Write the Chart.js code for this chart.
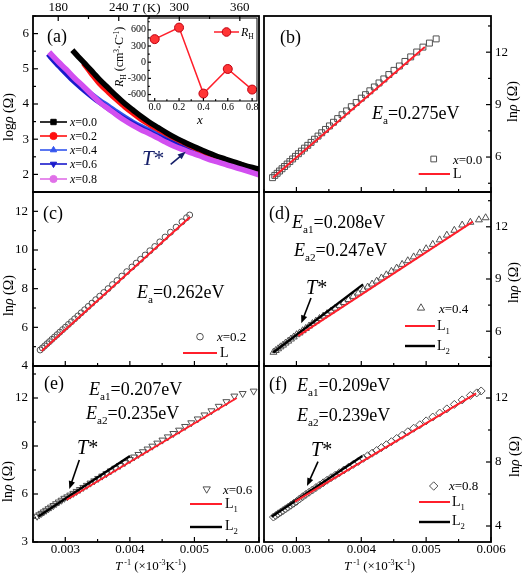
<!DOCTYPE html>
<html><head><meta charset="utf-8">
<script src="https://cdn.jsdelivr.net/npm/chart.js"></script>
<style>
html,body{margin:0;padding:0;background:#fff;}
#wrap{position:relative;width:524px;height:577px;overflow:hidden;background:#fff;font-family:"Liberation Serif","Times New Roman",serif;}
#wrap canvas{position:absolute;left:0;top:0;}
.t{position:absolute;white-space:nowrap;line-height:1;color:#000;}
.t sub{font-size:0.62em;vertical-align:-0.45em;line-height:0;}
.t sup{font-size:0.62em;vertical-align:0.6em;line-height:0;}
</style></head>
<body><div id="wrap"></div>
<script>
// ---------- panel (a): log rho vs T ----------
const T_x00=[194,200,208,215,221,230,238,246,254,262,270,279,287,295,304,312,320,328,336,345,353,362,370,379];
const logR_x00=[5.53,5.34,5.10,4.88,4.69,4.44,4.22,4.01,3.83,3.65,3.49,3.33,3.19,3.06,2.93,2.82,2.72,2.62,2.53,2.44,2.36,2.28,2.21,2.15];
const T_x02=[205,213,221,230,238,246,254,262,271,279,287,295,304,312,320,328,337,345,353,362,370,379];
const logR_x02=[5.16,4.86,4.58,4.33,4.12,3.92,3.74,3.57,3.41,3.28,3.15,3.03,2.91,2.80,2.69,2.59,2.50,2.42,2.34,2.26,2.19,2.13];
const T_x04=[172,180,188,196,205,213,221,230,238,246,254,262,271,279,287,295,304,312,320,328,337,345,353,362,370,379];
const logR_x04=[5.39,5.14,4.91,4.68,4.46,4.27,4.10,3.93,3.77,3.62,3.48,3.36,3.24,3.12,3.01,2.91,2.81,2.71,2.62,2.54,2.46,2.38,2.31,2.24,2.17,2.10];
const T_x06=[170,178,186,194,203,211,219,228,236,244,252,260,269,277,285,294,302,311,320,328,337,345,353,362,370,379];
const logR_x06=[5.42,5.16,4.92,4.69,4.46,4.27,4.09,3.91,3.75,3.60,3.47,3.34,3.21,3.10,2.99,2.88,2.78,2.68,2.59,2.51,2.43,2.35,2.28,2.21,2.14,2.07];
const T_x08=[171,180,188,196,205,213,221,230,238,246,254,262,271,279,287,295,304,312,320,328,337,345,353,362,370,379];
const logR_x08=[5.47,5.20,4.98,4.74,4.50,4.27,4.05,3.86,3.69,3.53,3.39,3.27,3.15,3.03,2.91,2.80,2.70,2.61,2.53,2.44,2.36,2.29,2.22,2.14,2.07,1.99];
// inset: Hall coefficient
const xH=[0.0,0.2,0.4,0.6,0.8];
const RH=[428,642,-582,-126,-508];
// ---------- panel (b) x=0.0 ----------
const invT_b=[0.0026316,0.0026667,0.0027027,0.0027397,0.0027778,0.0028169,0.0028571,0.0028986,0.0029412,0.0029851,0.0030303,0.0030769,0.0031250,0.0031746,0.0032258,0.0032787,0.0033333,0.0033898,0.0034483,0.0035088,0.0035714,0.0036364,0.0037037,0.0037736,0.0038462,0.0039216,0.0040000,0.0040650,0.0041322,0.0042017,0.0042735,0.0043478,0.0044248,0.0045045,0.0045872,0.0046729,0.0047619,0.0048544,0.0049505,0.0050505,0.0051546];
const ln_b=[4.82,4.95,5.07,5.20,5.33,5.46,5.60,5.74,5.89,6.04,6.19,6.34,6.51,6.67,6.84,7.02,7.20,7.39,7.58,7.78,7.99,8.20,8.42,8.64,8.88,9.12,9.37,9.57,9.79,10.01,10.24,10.47,10.72,10.96,11.21,11.47,11.73,12.01,12.29,12.52,12.76];
const fitB_x=[0.00264,0.00498], fitB_y=[4.83,12.29];
// ---------- panel (c) x=0.2 ----------
const invT_c=[0.0026110,0.0026455,0.0026810,0.0027174,0.0027548,0.0027933,0.0028329,0.0028736,0.0029155,0.0029586,0.0030030,0.0030488,0.0030960,0.0031447,0.0031949,0.0032468,0.0033003,0.0033557,0.0034130,0.0034722,0.0035336,0.0035971,0.0036630,0.0037313,0.0038023,0.0038760,0.0039526,0.0040323,0.0040984,0.0041667,0.0042373,0.0043103,0.0043860,0.0044643,0.0045455,0.0046296,0.0047170,0.0048077,0.0048780,0.0049261];
const ln_c=[4.83,4.93,5.04,5.15,5.26,5.38,5.50,5.62,5.75,5.88,6.01,6.15,6.29,6.44,6.59,6.75,6.91,7.08,7.25,7.43,7.61,7.80,8.00,8.21,8.42,8.65,8.88,9.12,9.32,9.52,9.74,9.96,10.18,10.42,10.67,10.92,11.18,11.46,11.67,11.81];
const fitC_x=[0.002635,0.004931], fitC_y=[4.78,11.71];
// ---------- panel (d) x=0.4 ----------
const invT_d=[0.0026455,0.0026810,0.0027174,0.0027548,0.0027933,0.0028329,0.0028736,0.0029155,0.0029586,0.0030030,0.0030488,0.0030960,0.0031447,0.0031949,0.0032468,0.0033003,0.0033557,0.0034130,0.0034722,0.0035336,0.0035971,0.0036630,0.0037313,0.0038023,0.0038760,0.0039526,0.0040323,0.0040984,0.0041667,0.0042373,0.0043103,0.0043860,0.0044643,0.0045455,0.0046296,0.0047170,0.0048077,0.0049020,0.0050000,0.0051020,0.0052083,0.0053191,0.0054348,0.0055556,0.0056818,0.0058140,0.0059172];
const ln_d=[4.79,4.89,4.99,5.10,5.20,5.32,5.43,5.55,5.67,5.80,5.90,6.03,6.16,6.30,6.44,6.58,6.73,6.87,7.01,7.16,7.32,7.48,7.65,7.82,8.00,8.19,8.38,8.54,8.71,8.88,9.06,9.24,9.44,9.63,9.84,10.05,10.27,10.50,10.74,10.99,11.25,11.52,11.80,12.10,12.26,12.40,12.52];
const fitD1_x=[0.003028,0.00572], fitD1_y=[5.73,12.30];
const fitD2_x=[0.002643,0.004028], fitD2_y=[4.78,8.69];
// ---------- panel (e) x=0.6 ----------
const invT_e=[0.0025641,0.0025974,0.0026316,0.0026667,0.0027027,0.0027397,0.0027778,0.0028169,0.0028571,0.0028986,0.0029412,0.0029851,0.0030303,0.0030769,0.0031250,0.0031746,0.0032258,0.0032787,0.0033333,0.0033898,0.0034483,0.0035088,0.0035714,0.0036364,0.0037037,0.0037736,0.0038462,0.0039216,0.0040000,0.0040650,0.0041322,0.0042017,0.0042735,0.0043478,0.0044248,0.0045045,0.0045872,0.0046729,0.0047619,0.0048544,0.0049505,0.0050505,0.0051546,0.0052632,0.0053763,0.0054945,0.0056180,0.0057471,0.0059172];
const ln_e=[4.61,4.70,4.79,4.88,4.98,5.08,5.18,5.28,5.39,5.50,5.61,5.73,5.82,5.93,6.04,6.16,6.28,6.41,6.54,6.68,6.82,6.97,7.12,7.27,7.44,7.61,7.78,7.96,8.15,8.31,8.47,8.64,8.81,8.99,9.18,9.37,9.57,9.78,9.99,10.22,10.45,10.69,10.94,11.20,11.48,11.77,12.12,12.28,12.43];
const fitE1_x=[0.003022,0.005655], fitE1_y=[5.64,12.0];
const fitE2_x=[0.002582,0.004002], fitE2_y=[4.59,8.37];
// ---------- panel (f) x=0.8 ----------
const invT_f=[0.0026455,0.0026810,0.0027174,0.0027548,0.0027933,0.0028329,0.0028736,0.0029155,0.0029586,0.0030030,0.0030488,0.0030960,0.0031447,0.0031949,0.0032468,0.0033003,0.0033557,0.0034130,0.0034722,0.0035336,0.0035971,0.0036630,0.0037313,0.0038023,0.0038760,0.0039526,0.0040323,0.0040984,0.0041667,0.0042373,0.0043103,0.0043860,0.0044643,0.0045455,0.0046296,0.0047170,0.0048077,0.0049020,0.0050000,0.0051020,0.0052083,0.0053191,0.0054348,0.0055556,0.0056818,0.0057803,0.0058480];
const ln_f=[4.56,4.65,4.76,4.86,4.96,5.07,5.18,5.30,5.42,5.54,5.69,5.83,5.97,6.11,6.25,6.40,6.55,6.70,6.86,7.02,7.17,7.33,7.50,7.67,7.85,8.03,8.23,8.39,8.55,8.72,8.90,9.08,9.27,9.47,9.67,9.89,10.11,10.33,10.57,10.81,11.06,11.32,11.60,11.88,12.16,12.32,12.44];
const fitF1_x=[0.002977,0.005771], fitF1_y=[5.52,12.29];
const fitF2_x=[0.002617,0.004017], fitF2_y=[4.58,8.38];
// ---------- tick labels ----------
const tickT=[180,240,300,360];
const tickLogR=[2,3,4,5,6];
const tickXH=[0,0.2,0.4,0.6,0.8];
const tickRH=[-600,-300,0,300,600];
const tickInvT=[0.003,0.004,0.005,0.006];
const tickLn_b=[6,9,12], tickLn_c=[4,6,8,10,12], tickLn_d=[6,9,12], tickLn_e=[3,6,9,12], tickLn_f=[4,8,12];

const W=524,H=577;
const FONT='"Liberation Serif","Times New Roman",serif';
const RED='#ff1f2b', MK='#505050', NAVY='#16206a';
const wrap=document.getElementById('wrap');
const pts=(xs,ys)=>xs.map((x,i)=>({x:x,y:ys[i]}));

function seg(ctx,x1,y1,x2,y2,c,w){ctx.save();ctx.strokeStyle=c;ctx.lineWidth=w;ctx.beginPath();ctx.moveTo(x1,y1);ctx.lineTo(x2,y2);ctx.stroke();ctx.restore();}
function arrow(ctx,x1,y1,x2,y2,c){
  const a=Math.atan2(y2-y1,x2-x1),L=8,Wd=3.2;
  seg(ctx,x1,y1,x2-L*0.6*Math.cos(a),y2-L*0.6*Math.sin(a),c,1.6);
  ctx.save();ctx.fillStyle=c;ctx.beginPath();ctx.moveTo(x2,y2);
  ctx.lineTo(x2-L*Math.cos(a)+Wd*Math.sin(a),y2-L*Math.sin(a)-Wd*Math.cos(a));
  ctx.lineTo(x2-L*Math.cos(a)-Wd*Math.sin(a),y2-L*Math.sin(a)+Wd*Math.cos(a));
  ctx.closePath();ctx.fill();ctx.restore();
}
function marker(ctx,s,x,y,r,stroke,fill,lw){
  ctx.save();ctx.beginPath();
  if(s==='circle'){ctx.arc(x,y,r,0,Math.PI*2);}
  else if(s==='rect'){ctx.rect(x-r*0.75,y-r*0.75,r*1.5,r*1.5);}
  else if(s==='tri'){ctx.moveTo(x,y-r);ctx.lineTo(x+r*0.87,y+r*0.5);ctx.lineTo(x-r*0.87,y+r*0.5);ctx.closePath();}
  else if(s==='tridown'){ctx.moveTo(x,y+r);ctx.lineTo(x+r*0.87,y-r*0.5);ctx.lineTo(x-r*0.87,y-r*0.5);ctx.closePath();}
  else if(s==='diamond'){ctx.moveTo(x,y-r);ctx.lineTo(x+r,y);ctx.lineTo(x,y+r);ctx.lineTo(x-r,y);ctx.closePath();}
  if(fill){ctx.fillStyle=fill;ctx.fill();}
  if(stroke){ctx.strokeStyle=stroke;ctx.lineWidth=lw||1;ctx.stroke();}
  ctx.restore();
}

function panel(o){
  const cv=document.createElement('canvas');cv.width=W;cv.height=H;wrap.appendChild(cv);
  const [l,t,r,b]=o.box, X=o.x, Y=o.y;
  const pad={left:l-(Y.pos==='left'?Y.size:0),right:W-r-(Y.pos==='right'?Y.size:0),
             top:t-(X.pos==='top'?X.size:0),bottom:H-b-(X.pos==='bottom'?X.size:0)};
  const sc=(s,isX)=>({type:'linear',position:s.pos,min:s.min,max:s.max,
     grid:{display:false,drawTicks:false},border:{display:false},
     ticks:{display:!!s.labels,autoSkip:false,maxRotation:0,minRotation:0,
            padding:s.pad||0,color:'#000',font:{family:FONT,size:s.font||13},callback:s.fmt||(v=>String(v))},
     afterBuildTicks:(k)=>{k.ticks=s.ticks.map(v=>({value:v}));},
     afterFit:(k)=>{if(isX)k.height=s.size;else k.width=s.size;}});
  const deco={id:'deco',afterDraw(ch){
     const ctx=ch.ctx,a=ch.chartArea;
     ctx.save();ctx.strokeStyle='#000';ctx.lineWidth=o.frame||1.8;
     ctx.strokeRect(a.left,a.top,a.right-a.left,a.bottom-a.top);
     [['x',X],['y',Y]].forEach(([k,s])=>{
        const scl=ch.scales[k],h=s.step/2,tl=o.tick||5;
        for(let i=Math.ceil(s.min/h-1e-6);i*h<=s.max+1e-12;i++){
          const v=i*h,len=(i%2===0)?tl:tl*0.6;
          const p=scl.getPixelForValue(v);
          ctx.beginPath();ctx.lineWidth=1.2;
          if(k==='x'){const e=s.pos==='top'?a.top:a.bottom,d=s.pos==='top'?1:-1;ctx.moveTo(p,e);ctx.lineTo(p,e+d*len);}
          else{const e=s.pos==='left'?a.left:a.right,d=s.pos==='left'?1:-1;ctx.moveTo(e,p);ctx.lineTo(e+d*len,p);}
          ctx.stroke();
        }
     });
     ctx.restore();
     if(o.extra){ctx.save();o.extra(ctx,ch);ctx.restore();}
  }};
  return new Chart(cv,{type:'scatter',data:{datasets:o.datasets},
    options:{responsive:false,maintainAspectRatio:false,animation:false,devicePixelRatio:1,events:[],
      layout:{padding:pad},plugins:{legend:{display:false},tooltip:{enabled:false}},
      scales:{x:sc(X,true),y:sc(Y,false)}},plugins:[deco]});
}

const curve=(lab,xs,ys,col,ord)=>({label:lab,data:pts(xs,ys),showLine:true,borderColor:col,borderWidth:5.5,pointRadius:0,cubicInterpolationMode:'monotone',order:ord});
const marks=(lab,xs,ys,style,r,rot)=>({label:lab,data:pts(xs,ys),showLine:false,pointStyle:style,pointRadius:r,pointRotation:rot||0,
  pointBorderColor:MK,pointBackgroundColor:'rgba(255,255,255,0)',pointBorderWidth:1,order:1});
const fit=(lab,xs,ys,col,w)=>({label:lab,data:pts(xs,ys),showLine:true,borderColor:col,borderWidth:w||2,pointRadius:0,order:0});
const fmt3=v=>v.toFixed(3);
const xCol=(labels)=>({pos:'bottom',min:0.0025,max:0.006,step:0.001,ticks:tickInvT,labels:labels,size:labels?35:0,pad:0,fmt:fmt3});

// (a)
panel({box:[33,16,259,192],
  x:{pos:'top',min:155,max:379,step:60,ticks:tickT,labels:true,size:16,pad:1},
  y:{pos:'left',min:1.5,max:6.5,step:1,ticks:tickLogR,labels:true,size:33,pad:4},
  datasets:[curve('x=0.0',T_x00,logR_x00,'#000000',2),curve('x=0.2',T_x02,logR_x02,'#ff1010',3),
            curve('x=0.4',T_x04,logR_x04,'#3355ee',5),curve('x=0.6',T_x06,logR_x06,'#1a1acc',4),
            curve('x=0.8',T_x08,logR_x08,'#d24ff0',1)],
  extra:(ctx)=>{
    const L=[[122,'#000','rect'],[136,'#ff1010','circle'],[150,'#3355ee','tri'],[164,'#1a1acc','tridown'],[179,'#e070e8','circle']];
    L.forEach(([y,c,s])=>{seg(ctx,40,y,67,y,c,1.6);marker(ctx,s,53.5,y,3.6,c,c,1);});
    arrow(ctx,170.7,164.3,185.7,151.7,NAVY);
  }});
// inset
panel({box:[148,18,257,101],frame:1,tick:3,
  x:{pos:'bottom',min:-0.055,max:0.84,step:0.2,ticks:tickXH,labels:true,size:14,pad:0,font:10,fmt:v=>v.toFixed(1)},
  y:{pos:'left',min:-720,max:820,step:300,ticks:tickRH,labels:true,size:28,pad:2,font:10},
  datasets:[{label:'RH',data:pts(xH,RH),showLine:true,borderColor:RED,borderWidth:1.5,pointRadius:4.5,
             pointBackgroundColor:'#ff3535',pointBorderColor:'#c00010',pointBorderWidth:1}],
  extra:(ctx)=>{seg(ctx,214,32,239,32,RED,1.5);marker(ctx,'circle',226.5,32,4.3,'#c00010','#ff3535',1);}});
// (b)
panel({box:[264,16,491,192],x:xCol(false),
  y:{pos:'right',min:4,max:14.07,step:3,ticks:tickLn_b,labels:true,size:33,pad:4},
  datasets:[marks('x=0.0',invT_b,ln_b,'rect',4.2),fit('L',fitB_x,fitB_y,RED)],
  extra:(ctx)=>{marker(ctx,'rect',433.7,159,3.8,MK,null,1);seg(ctx,418.7,174,450,174,RED,2);}});
// (c)
panel({box:[33,192,259,366],x:xCol(false),
  y:{pos:'left',min:4,max:13,step:2,ticks:tickLn_c,labels:true,size:33,pad:5},
  datasets:[marks('x=0.2',invT_c,ln_c,'circle',3),fit('L',fitC_x,fitC_y,RED)],
  extra:(ctx)=>{marker(ctx,'circle',200,336.7,3.3,MK,null,1);seg(ctx,183,353,217,353,RED,2);}});
// (d)
panel({box:[264,192,491,366],x:xCol(false),
  y:{pos:'right',min:4,max:14,step:3,ticks:tickLn_d,labels:true,size:33,pad:4},
  datasets:[marks('x=0.4',invT_d,ln_d,'triangle',4),fit('L1',fitD1_x,fitD1_y,RED),fit('L2',fitD2_x,fitD2_y,'#000',2.4)],
  extra:(ctx)=>{marker(ctx,'tri',421,308,4.2,MK,null,1);seg(ctx,405,326,435,326,RED,2);seg(ctx,405,346,435,346,'#000',2.4);
    arrow(ctx,311,298,301.3,323.3,'#000');}});
// (e)
panel({box:[33,366,259,542],x:xCol(true),
  y:{pos:'left',min:3,max:14,step:3,ticks:tickLn_e,labels:true,size:33,pad:5},
  datasets:[marks('x=0.6',invT_e,ln_e,'triangle',4,180),fit('L1',fitE1_x,fitE1_y,RED),fit('L2',fitE2_x,fitE2_y,'#000',2.4)],
  extra:(ctx)=>{marker(ctx,'tridown',206.7,489,4.2,MK,null,1);seg(ctx,190,504,222,504,RED,2);seg(ctx,190,527,222,527,'#000',2.4);
    arrow(ctx,79.3,460,69.3,489,'#000');}});
// (f)
panel({box:[264,366,491,542],x:xCol(true),
  y:{pos:'right',min:3,max:14,step:4,ticks:tickLn_f,labels:true,size:33,pad:4},
  datasets:[marks('x=0.8',invT_f,ln_f,'rectRot',4),fit('L1',fitF1_x,fitF1_y,RED),fit('L2',fitF2_x,fitF2_y,'#000',2.4)],
  extra:(ctx)=>{marker(ctx,'diamond',433.7,486,4.2,MK,null,1);seg(ctx,419,502,450,502,RED,2);seg(ctx,419,522,450,522,'#000',2.4);
    arrow(ctx,318,461.7,307,486,'#000');}});

// ---------- text ----------
function txt(html,left,top,size,style){const d=document.createElement('div');d.className='t';d.innerHTML=html;
  d.style.left=left+'px';d.style.top=top+'px';d.style.fontSize=size+'px';if(style)Object.assign(d.style,style);wrap.appendChild(d);return d;}
function vtxt(html,left,cy,size){const d=txt(html,left,0,size);d.style.transformOrigin='0 0';d.style.transform='rotate(-90deg)';
  const w=d.offsetWidth;d.style.top=(cy+w/2)+'px';return d;}

txt('(a)',47,27,18);txt('(b)',280,28,18);txt('(c)',43,204,18);txt('(d)',269,204,18);txt('(e)',44,374,18);txt('(f)',269,375,18);
txt('<i>T</i> (K)',132,1,13);
const lnT='ln<i>ρ</i> (Ω)';
vtxt('log<i>ρ</i> (Ω)',2,117,14);
vtxt(lnT,506,101,14);vtxt(lnT,2,295,14);vtxt(lnT,507,282,14);vtxt(lnT,1,481,14);vtxt(lnT,508,456,14);
const xT='<i>T</i><sup> -1</sup> (×10<sup>-3</sup>K<sup>-1</sup>)';
txt(xT,115,559,13);txt(xT,344,559,13);
// inset
vtxt('<i>R</i><sub>H</sub> (cm<sup>3</sup>·C<sup>-1</sup>)',113,57,12);
txt('<i>x</i>',197,113,13);
txt('<i>R</i><sub>H</sub>',241,25.5,12);
// legend (a)
['0.0','0.2','0.4','0.6','0.8'].forEach((v,i)=>txt('<i>x</i>='+v,70,[116,130,144,158,173][i],12));
txt('<i>T</i>*',142,148,21,{color:NAVY});
// (b)
txt('<i>E</i><sub>a</sub>=0.275eV',372,104,18);
txt('<i>x</i>=0.0',453,152.5,13);txt('L',453,166.5,14);
// (c)
txt('<i>E</i><sub>a</sub>=0.262eV',137,282.5,18);
txt('<i>x</i>=0.2',217,330,13);txt('L',220,345.5,14);
// (d)
txt('<i>E</i><sub>a1</sub>=0.208eV',292,213,18);txt('<i>E</i><sub>a2</sub>=0.247eV',294,241,18);
txt('<i>T</i>*',306,276.5,20);
txt('<i>x</i>=0.4',439,301.5,13);txt('L<sub>1</sub>',437,318.5,14);txt('L<sub>2</sub>',437,338.5,14);
// (e)
txt('<i>E</i><sub>a1</sub>=0.207eV',89,380,18);txt('<i>E</i><sub>a2</sub>=0.235eV',86,403.5,18);
txt('<i>T</i>*',77,436.5,20);
txt('<i>x</i>=0.6',223,482.5,13);txt('L<sub>1</sub>',225,496.5,14);txt('L<sub>2</sub>',225,519,14);
// (f)
txt('<i>E</i><sub>a1</sub>=0.209eV',297,376,18);txt('<i>E</i><sub>a2</sub>=0.239eV',297,405.5,18);
txt('<i>T</i>*',311,438.8,20);
txt('<i>x</i>=0.8',449,479,13);txt('L<sub>1</sub>',452,494.5,14);txt('L<sub>2</sub>',452,514,14);
</script></body></html>
